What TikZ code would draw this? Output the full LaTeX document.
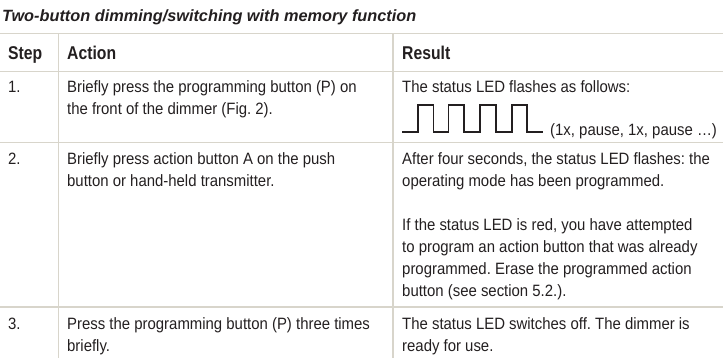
\documentclass[tikz,border=0pt]{standalone}
\usepackage{fontspec}
\setmainfont{Liberation Sans}[FakeStretch=0.91]
\newfontfamily\headfont{Liberation Sans}[FakeStretch=0.85]
\newfontfamily\titlefont{Liberation Sans}[FakeStretch=1.0]
\definecolor{ink}{HTML}{231F20}
\definecolor{rule}{HTML}{D8D5CB}
\newcommand{\celltext}[1]{\parbox[t]{330pt}{\raggedright\frenchspacing #1}}
\tikzset{
  body/.style={anchor=base west, inner sep=0pt, text=ink, font=\fontsize{16.4}{22}\selectfont\frenchspacing},
  head/.style={anchor=base west, inner sep=0pt, text=ink, font=\headfont\bfseries\fontsize{18.5}{22}\selectfont},
  title/.style={anchor=base west, inner sep=0pt, text=ink, font=\titlefont\bfseries\itshape\fontsize{16.3}{22}\selectfont},
  gridline/.style={draw=rule, line width=1.5pt},
  wave/.style={draw=ink, line width=1.8pt, line join=miter}
}
\begin{document}
\begin{tikzpicture}[x=1pt,y=-1pt]
\useasboundingbox (0,0) rectangle (723,358);
% grid
\draw[gridline] (0,33.3) -- (723,33.3);
\draw[gridline] (0,71.5) -- (723,71.5);
\draw[gridline] (0,142.7) -- (723,142.7);
\draw[gridline] (0,307) -- (723,307);
\draw[gridline] (58.3,33.3) -- (58.3,358);
\draw[gridline] (393,33.3) -- (393,358);
% title
\node[title] (ttl) at (2,21.7) {Two-button dimming/switching with memory function};
% header
\node[head] (hstep) at (8,60) {Step};
\node[head] (hact) at (67,60) {Action};
\node[head] (hres) at (402,60) {Result};
% row 1
\node[body] (s1) at (8,93) {1.};
\node[body] (a1) at (67,93) {\celltext{Briefly press the programming button (P) on\\the front of the dimmer (Fig.~2).}};
\node[body] (r1) at (402,93) {\celltext{The status LED flashes as follows:}};
\draw[wave] (402,131.7) -- (418.3,131.7) -- (418.3,105) -- (433.5,105) -- (433.5,131.7)
  -- (448.5,131.7) -- (448.5,105) -- (464,105) -- (464,131.7)
  -- (480,131.7) -- (480,105) -- (495.7,105) -- (495.7,131.7)
  -- (511.7,131.7) -- (511.7,105) -- (527.3,105) -- (527.3,131.7) -- (543.3,131.7);
\node[body] (r1b) at (550,136) {(1x, pause, 1x, pause …)};
% row 2
\node[body] (s2) at (8,165) {2.};
\node[body] (a2) at (67,165) {\celltext{Briefly press action button A on the push\\button or hand-held transmitter.}};
\node[body] (r2) at (402,165) {\celltext{After four seconds, the status LED flashes: the\\operating mode has been programmed.\\[22pt]If the status LED is red, you have attempted\\to program an action button that was already\\programmed. Erase the programmed action\\button (see section 5.2.).}};
% row 3
\node[body] (s3) at (8,329) {3.};
\node[body] (a3) at (67,329) {\celltext{Press the programming button (P) three times\\briefly.}};
\node[body] (r3) at (402,329) {\celltext{The status LED switches off. The dimmer is\\ready for use.}};
\end{tikzpicture}
\end{document}
